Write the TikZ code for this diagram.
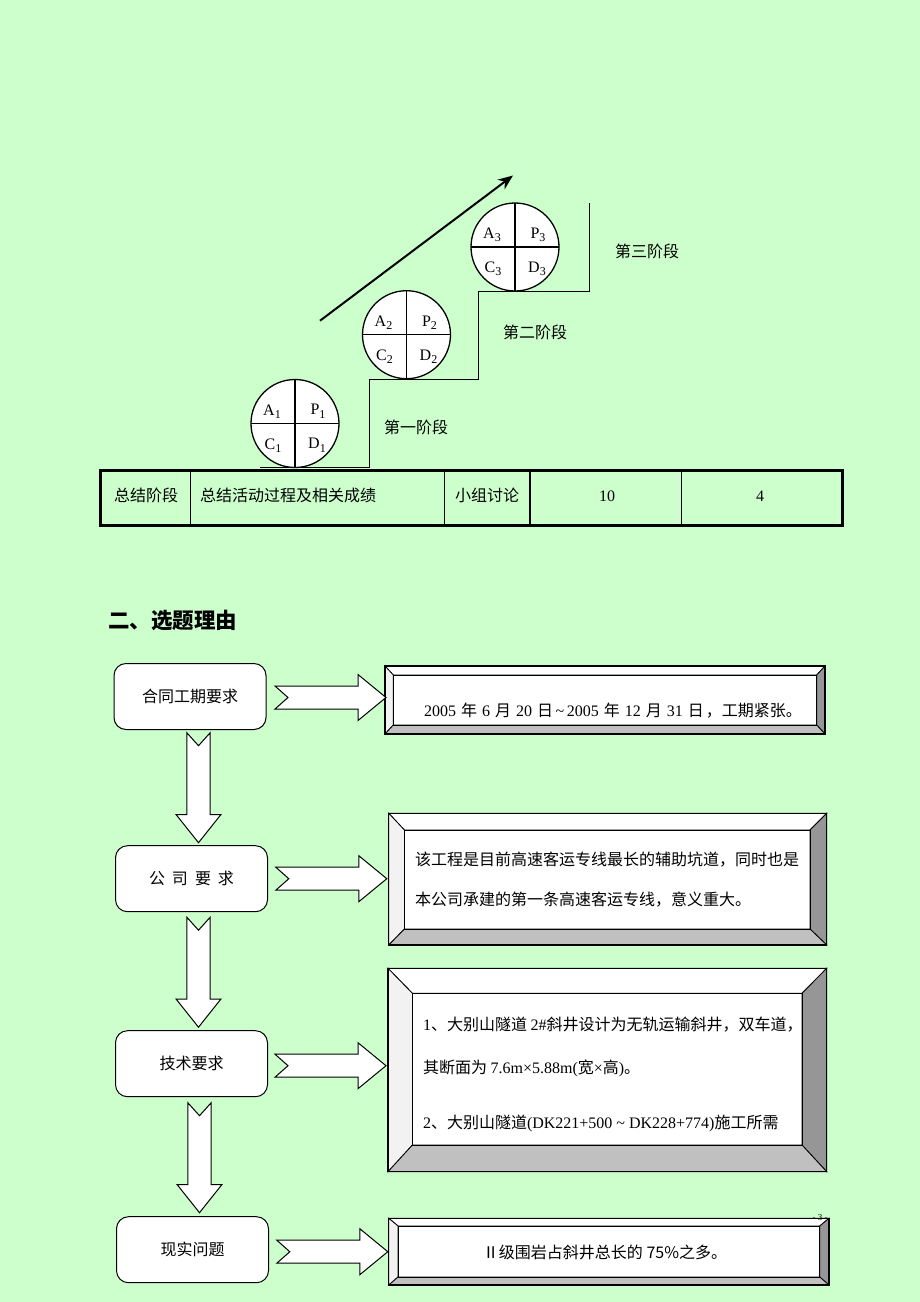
\documentclass[tikz,border=0pt]{standalone}
\usepackage{fontspec}
\setmainfont{Liberation Serif}
\newfontfamily\cjk{Noto Sans CJK SC}
\usetikzlibrary{arrows.meta,calc}
\definecolor{bg}{RGB}{204,255,204}
\definecolor{bevdark}{RGB}{150,150,150}
\definecolor{bevmid}{RGB}{192,192,192}
\definecolor{bevlight}{RGB}{242,242,242}
\newcommand\lat[1]{{\rmfamily #1}}
\newcommand\sbs[1]{\raisebox{-3.5pt}{\fontsize{12pt}{12pt}\selectfont #1}}
\newcommand\bevelbox[9]{% name, cx, cy, W, H, inset left, top, right, bottom
  \node[draw, line width=1pt, fill=white, inner sep=0, outer sep=0,
        minimum width=#4pt, minimum height=#5pt] (#1) at (#2,#3) {};
  \coordinate (#1-a) at ($(#1.north west)+(#6,#7)$);
  \coordinate (#1-b) at ($(#1.north east)+(-#8,#7)$);
  \coordinate (#1-c) at ($(#1.south east)+(-#8,-#9)$);
  \coordinate (#1-d) at ($(#1.south west)+(#6,-#9)$);
  \filldraw[fill=white, line width=0.8pt] (#1.north west) -- (#1.north east) -- (#1-b) -- (#1-a) -- cycle;
  \filldraw[fill=bevlight, line width=0.8pt] (#1.north west) -- (#1-a) -- (#1-d) -- (#1.south west) -- cycle;
  \filldraw[fill=bevdark, line width=0.8pt] (#1.north east) -- (#1.south east) -- (#1-c) -- (#1-b) -- cycle;
  \filldraw[fill=bevmid, line width=0.8pt] (#1.south west) -- (#1-d) -- (#1-c) -- (#1.south east) -- cycle;
  \draw[line width=1pt] (#1-a) rectangle (#1-c);
  \draw[line width=1.2pt] (#1.north west) rectangle (#1.south east);
}
\tikzset{
  txt/.style={font=\cjk\fontsize{16pt}{20pt}\selectfont, inner sep=0, outer sep=0},
  lbl/.style={font=\rmfamily\fontsize{16pt}{18pt}\selectfont, inner sep=0},
  pdca/.style={circle, draw, line width=1.3pt, fill=white, minimum size=88pt, inner sep=0, outer sep=0},
  rbox/.style={draw, line width=1pt, fill=white, rounded corners=12pt, minimum width=152pt, minimum height=66pt,
               font=\cjk\fontsize{16pt}{20pt}\selectfont},
  blockarr/.style={draw, line width=1pt, fill=white, line join=miter},
}
\newcommand\rarrow[1]{\draw[blockarr, shift={#1}] (-111,-11.5) -- (-28,-11.5) -- (-28,-23) -- (0,0) -- (-28,23) -- (-28,11.5) -- (-111,11.5) -- (-98,0) -- cycle;}
\newcommand\darrow[1]{\draw[blockarr, shift={#1}] (-11.7,-110) -- (0,-97) -- (11.7,-110) -- (11.7,-28) -- (22.3,-28) -- (0,0) -- (-22.3,-28) -- (-11.7,-28) -- cycle;}
\begin{document}
\begin{tikzpicture}[x=1pt, y=-1pt]
\fill[bg] (0,0) rectangle (920,1302);
\useasboundingbox (0,0) rectangle (920,1302);

% ---------- PDCA staircase ----------
\draw[line width=1pt] (260,467) -- (369,467) -- (369,379) -- (478,379) -- (478,291) -- (589,291) -- (589,203);
\draw[line width=2pt, -{Stealth[length=15pt, width=12pt]}] (320,320.7) -- (513,175.5);

\foreach \n/\cx/\cy in {1/295/423.5, 2/406.5/334.7, 3/515/247}{
  \node[pdca] (c\n) at (\cx,\cy) {};
  \draw[line width=1.3pt] (c\n.north) -- (c\n.south);
  \draw[line width=1.3pt] (c\n.west) -- (c\n.east);
  \node[lbl] (a\n) at ($(c\n)+(-23,-12)$) {A\sbs{\n}};
  \node[lbl] (p\n) at ($(c\n)+(23,-12)$) {P\sbs{\n}};
  \node[lbl] (cc\n) at ($(c\n)+(-22,22)$) {C\sbs{\n}};
  \node[lbl] (d\n) at ($(c\n)+(22,22)$) {D\sbs{\n}};
}
\node[txt] (s1) at (416,427) {第一阶段};
\node[txt] (s2) at (535,332) {第二阶段};
\node[txt] (s3) at (647,251) {第三阶段};

% ---------- table row ----------
\draw[line width=1pt] (190.7,470) -- (190.7,526);
\draw[line width=1pt] (444,470) -- (444,526);
\draw[line width=2.5pt] (530,470) -- (530,526);
\draw[line width=1pt] (681,470) -- (681,526);
\draw[line width=3pt] (100,470) rectangle (842,525.5);
\node[txt] (t1) at (146,495) {总结阶段};
\node[txt, anchor=west] (t2) at (200,495) {总结活动过程及相关成绩};
\node[txt] (t3) at (487,495) {小组讨论};
\node[lbl] (t4) at (607,496) {10};
\node[lbl] (t5) at (760,496) {4};

% ---------- heading ----------
\node[txt, anchor=west, font=\cjk\bfseries\fontsize{21.5pt}{24pt}\selectfont] (h) at (108,621) {二、选题理由};

% ---------- left boxes ----------
\node[rbox] (b1) at (190,696.5) {合同工期要求};
\node[rbox] (b2) at (191.5,878.7) {公\hspace{7pt}司\hspace{7pt}要\hspace{7pt}求};
\node[rbox] (b3) at (191.5,1063.7) {技术要求};
\node[rbox] (b4) at (192.5,1249.7) {现实问题};

% ---------- right bevel boxes ----------
\bevelbox{r1}{605}{700}{440}{68}{8.3}{9}{8.3}{9}
\bevelbox{r2}{607.75}{879.15}{437.9}{131.7}{15.6}{16.7}{16.7}{16}
\bevelbox{r3}{607.35}{1070}{438.7}{203.4}{24.4}{25}{24.7}{26.7}
\bevelbox{r4}{608.9}{1251.65}{440.2}{66.7}{9.2}{7.7}{9.3}{8}

\node[txt] (r1t) at (613,711) {\lat{2005}\hspace{5pt}年\hspace{5pt}\lat{6}\hspace{5pt}月\hspace{5pt}\lat{20}\hspace{5pt}日\lat{\,\textasciitilde\,2005}\hspace{5pt}年\hspace{5pt}\lat{12}\hspace{5pt}月\hspace{5pt}\lat{31}\hspace{5pt}日\hspace{2pt}，工期紧张。};
\node[txt, anchor=west] (r2t1) at (415,860) {该工程是目前高速客运专线最长的辅助坑道，同时也是};
\node[txt, anchor=west] (r2t2) at (415,900) {本公司承建的第一条高速客运专线，意义重大。};
\node[txt, anchor=west] (r3t1) at (423,1025) {\lat{1}、大别山隧道 \lat{2\#}斜井设计为无轨运输斜井，双车道，};
\node[txt, anchor=west] (r3t2) at (423,1068) {其断面为 \lat{7.6m×5.88m(}宽\lat{×}高\lat{)}。};
\node[txt, anchor=west] (r3t3) at (423,1123) {\lat{2}、大别山隧道\lat{(DK221+500 \textasciitilde{} DK228+774)}施工所需};
\node[txt] (r4t) at (605,1252) {Ⅱ级围岩占斜井总长的 75\%之多。};

% ---------- block arrows ----------
\rarrow{($(r1.west |- b1.center)+(1,1)$)}
\rarrow{($(r2.west |- b2.center)+(-2,0)$)}
\rarrow{($(r3.west |- b3.center)+(-2,2)$)}
\rarrow{($(r4.west |- b4.center)+(-1,2)$)}
\darrow{($(b2.north)+(7,-2.5)$)}
\darrow{($(b3.north)+(7,-3)$)}
\darrow{($(b4.north)+(7,-3.5)$)}

% ---------- page number ----------
\node[inner sep=0, font=\rmfamily\fontsize{9pt}{9pt}\selectfont] (pg) at (820,1218) {- 3 -};
\end{tikzpicture}
\end{document}
